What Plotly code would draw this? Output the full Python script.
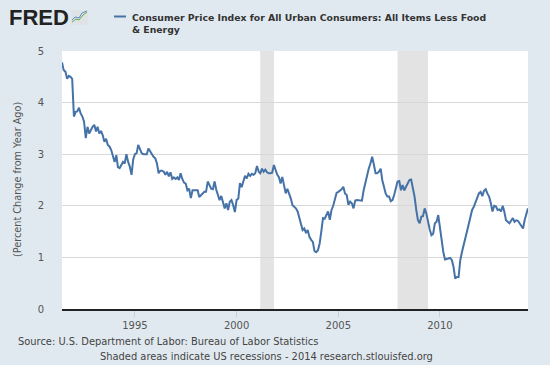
import pandas as pd
import plotly.graph_objects as go

# ---- data: monthly % change from year ago, Jun 1991 .. May 2014 ----
v1991 = [4.78, 4.63, 4.60, 4.46, 4.52, 4.50, 4.46]
v1992 = [3.73, 3.82, 3.83, 3.90, 3.79, 3.73, 3.63, 3.31, 3.53, 3.40, 3.48, 3.53]
v1993 = [3.57, 3.44, 3.53, 3.40, 3.45, 3.37, 3.24, 3.30, 3.18, 3.15, 3.08, 2.98]
v1994 = [2.85, 2.98, 2.75, 2.73, 2.80, 2.85, 2.82, 3.00, 2.85, 2.76, 2.60, 2.90]
v1995 = [3.00, 3.02, 3.18, 3.08, 3.02, 3.00, 3.00, 3.00, 3.11, 3.05, 3.00, 2.95]
v1996 = [2.92, 2.82, 2.63, 2.68, 2.68, 2.66, 2.60, 2.66, 2.57, 2.65, 2.52, 2.55]
v1997 = [2.52, 2.55, 2.50, 2.63, 2.52, 2.45, 2.43, 2.30, 2.33, 2.15, 2.30, 2.30]
v1998 = [2.30, 2.30, 2.17, 2.20, 2.24, 2.27, 2.27, 2.47, 2.40, 2.33, 2.32, 2.47]
v1999 = [2.31, 2.21, 2.11, 2.19, 2.05, 1.95, 2.05, 1.92, 2.08, 2.11, 2.01, 1.88]
v2000 = [2.11, 2.14, 2.44, 2.36, 2.47, 2.58, 2.53, 2.62, 2.58, 2.62, 2.60, 2.63]
v2001 = [2.77, 2.66, 2.63, 2.72, 2.66, 2.70, 2.65, 2.63, 2.63, 2.64, 2.79, 2.67]
v2002 = [2.60, 2.55, 2.43, 2.56, 2.37, 2.24, 2.33, 2.24, 2.14, 2.01, 1.98, 1.95]
v2003 = [1.89, 1.76, 1.69, 1.53, 1.56, 1.47, 1.53, 1.40, 1.34, 1.30, 1.12, 1.10]
v2004 = [1.14, 1.27, 1.50, 1.76, 1.75, 1.82, 1.89, 1.73, 1.92, 2.00, 2.14, 2.25]
v2005 = [2.27, 2.30, 2.32, 2.37, 2.24, 2.21, 2.02, 2.08, 2.05, 1.95, 2.10, 2.11]
v2006 = [2.11, 2.10, 2.10, 2.30, 2.45, 2.60, 2.72, 2.82, 2.95, 2.80, 2.63, 2.63]
v2007 = [2.66, 2.72, 2.50, 2.37, 2.24, 2.18, 2.18, 2.09, 2.11, 2.21, 2.37, 2.47]
v2008 = [2.48, 2.30, 2.40, 2.30, 2.37, 2.44, 2.50, 2.51, 2.37, 2.18, 1.92, 1.72]
v2009 = [1.66, 1.79, 1.80, 1.95, 1.85, 1.66, 1.54, 1.43, 1.46, 1.66, 1.69, 1.82]
v2010 = [1.55, 1.28, 1.11, 0.96, 0.97, 0.98, 0.99, 0.95, 0.82, 0.59, 0.62, 0.62]
v2011 = [0.95, 1.11, 1.21, 1.37, 1.50, 1.63, 1.76, 1.92, 1.98, 2.08, 2.18, 2.24]
v2012 = [2.27, 2.19, 2.29, 2.32, 2.24, 2.18, 2.06, 1.89, 2.00, 1.99, 1.92, 1.93]
v2013 = [1.89, 2.00, 1.89, 1.72, 1.69, 1.66, 1.71, 1.76, 1.69, 1.72, 1.71, 1.66]
v2014 = [1.59, 1.56, 1.72, 1.82, 1.95]

start_month = "1991-06-01"
recession_starts = ["2001-03-01", "2007-12-01"]
recession_ends = ["2001-11-01", "2009-06-01"]
x_tick_years = ["1995", "2000", "2005", "2010"]

series_name = "Consumer Price Index for All Urban Consumers: All Items Less Food<br>& Energy"
y_title = "(Percent Change from Year Ago)"
source_text = "Source: U.S. Department of Labor: Bureau of Labor Statistics"
footer_text = "Shaded areas indicate US recessions - 2014 research.stlouisfed.org"

values = (v1991 + v1992 + v1993 + v1994 + v1995 + v1996 + v1997 + v1998 + v1999
          + v2000 + v2001 + v2002 + v2003 + v2004 + v2005 + v2006 + v2007 + v2008
          + v2009 + v2010 + v2011 + v2012 + v2013 + v2014)
dates = pd.date_range(start_month, periods=len(values), freq="MS")

# ---- layout geometry (pixels) ----
W, H = 550, 365
L, R, T, B = 62, 22, 51, 56
PW, PH = W - L - R, H - T - B


def px(xp):
    return (xp - L) / PW


def py(yp):
    return (H - B - yp) / PH


LINE_COLOR = "#4572a7"
BG = "#e1e9f0"
FONT = "DejaVu Sans"

fig = go.Figure()
fig.add_trace(go.Scatter(x=dates, y=values, mode="lines",
                         line=dict(color=LINE_COLOR, width=2),
                         name="CPI less food & energy", showlegend=False,
                         hovertemplate="%{x|%b %Y}: %{y:.2f}<extra></extra>"))

shapes = []
for s, e in zip(recession_starts, recession_ends):
    shapes.append(dict(type="rect", xref="x", yref="paper", x0=s, x1=e, y0=0, y1=1,
                       fillcolor="#e3e3e3", line=dict(width=0), layer="below"))

# legend swatch
shapes.append(dict(type="line", xref="paper", yref="paper",
                   x0=px(114), x1=px(126), y0=py(16.5), y1=py(16.5),
                   line=dict(color=LINE_COLOR, width=2)))
# FRED icon
shapes.append(dict(type="rect", xref="paper", yref="paper",
                   x0=px(71), x1=px(88), y0=py(25), y1=py(10),
                   fillcolor="#dfe3e6", line=dict(width=0)))
shapes.append(dict(type="path", xref="paper", yref="paper",
                   path=f"M {px(72)},{py(22)} L {px(76)},{py(19)} L {px(79)},{py(20)} L {px(83)},{py(15)} L {px(87)},{py(12)}",
                   line=dict(color="#6aa84f", width=1)))
shapes.append(dict(type="path", xref="paper", yref="paper",
                   path=f"M {px(72)},{py(20)} L {px(75)},{py(17)} L {px(79)},{py(18)} L {px(82)},{py(13)} L {px(87)},{py(11)}",
                   line=dict(color="#5b8fc7", width=1)))

annotations = [
    dict(text="<b>FRED</b>", xref="paper", yref="paper", x=px(7), y=py(17.5),
         xanchor="left", yanchor="middle", showarrow=False,
         font=dict(family="Liberation Sans", size=22, color="#222222")),
    dict(text="<b>" + series_name + "</b>", xref="paper", yref="paper",
         x=px(130), y=py(10), xanchor="left", yanchor="top", align="left",
         showarrow=False, font=dict(family=FONT, size=9.3, color="#333333")),
    dict(text=source_text, xref="paper", yref="paper", x=px(16), y=py(341),
         xanchor="left", yanchor="middle", showarrow=False,
         font=dict(family=FONT, size=9.9, color="#444444")),
    dict(text=footer_text, xref="paper", yref="paper", x=px(266), y=py(357),
         xanchor="center", yanchor="middle", showarrow=False,
         font=dict(family=FONT, size=9.9, color="#444444")),
    dict(text=y_title, xref="paper", yref="paper", x=px(17), y=py(180),
         xanchor="center", yanchor="middle", textangle=-90, showarrow=False,
         font=dict(family=FONT, size=9.7, color="#555555")),
]

fig.update_layout(
    width=W, height=H,
    margin=dict(l=L, r=R, t=T, b=B, pad=0),
    paper_bgcolor=BG, plot_bgcolor="white",
    font=dict(family=FONT, size=10, color="#555555"),
    shapes=shapes, annotations=annotations, showlegend=False,
)
fig.update_xaxes(
    type="date", range=[dates[0], dates[-1]],
    tickvals=[f"{y}-01-01" for y in x_tick_years], ticktext=x_tick_years,
    showgrid=False, showline=True, linecolor="#222222", linewidth=2,
    ticks="outside", ticklen=6, tickcolor="#c3d1de", tickwidth=1,
    tickfont=dict(size=10, color="#555555"), zeroline=False,
)
fig.update_yaxes(
    range=[0, 5], dtick=1, showgrid=True, gridcolor="#d8d8d8", gridwidth=1,
    zeroline=False, showline=False,
    ticks="outside", ticklen=15, tickcolor="rgba(0,0,0,0)",
    tickfont=dict(size=10, color="#555555"),
)

fig.write_html("out.html",
               config={"displayModeBar": False},
               post_script="document.body.style.margin='0px';"
                           "document.body.style.background='" + BG + "';")
